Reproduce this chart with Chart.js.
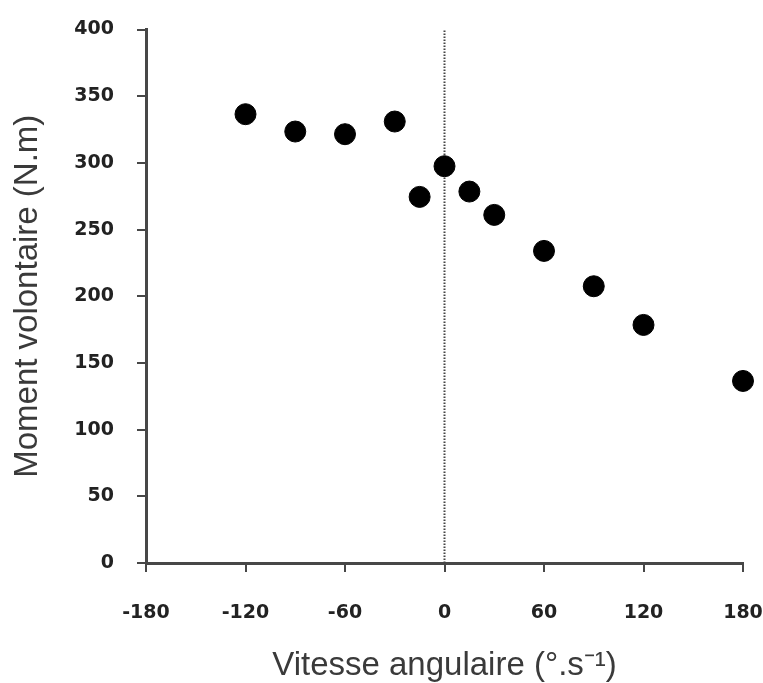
<!DOCTYPE html>
<html>
<head>
<meta charset="utf-8">
<script src="https://cdn.jsdelivr.net/npm/chart.js@4"></script>
<style>
html,body{margin:0;padding:0;background:#fff;}
#wrap{width:763px;height:683px;}
</style>
</head>
<body>
<div id="wrap"><canvas id="c" width="763" height="683"></canvas></div>
<script>
const velocities = [-120, -90, -60, -30, -15, 0, 15, 30, 60, 90, 120, 180];
const torques = [336.5, 323.5, 321.5, 331, 274.5, 297.5, 278.5, 261, 234, 207.5, 178.5, 136.5];
const refLineX = [0, 0];
const refLineY = [0, 400];
const xTitle = "Vitesse angulaire (°.s⁻¹)";
const yTitle = "Moment volontaire (N.m)";

const points = velocities.map((v, i) => ({x: v, y: torques[i]}));
const refLine = refLineX.map((v, i) => ({x: v, y: refLineY[i]}));

const tickFont = {family: "'DejaVu Sans', sans-serif", size: 19, weight: 'bold'};
const titleFont = {family: "'Liberation Sans', Arial, sans-serif", size: 33};
const axisColor = '#474747';

new Chart(document.getElementById('c'), {
  type: 'scatter',
  data: {
    datasets: [
      {
        data: points,
        order: 0,
        backgroundColor: '#000',
        borderColor: '#000',
        borderWidth: 1,
        pointRadius: 10.5,
        pointHoverRadius: 10.5,
        clip: false
      },
      {
        data: refLine,
        order: 1,
        showLine: true,
        borderColor: '#444',
        borderWidth: 2,
        borderDash: [1.5, 1.5],
        pointRadius: 0,
        pointHoverRadius: 0,
        fill: false,
        clip: false
      }
    ]
  },
  options: {
    responsive: false,
    animation: false,
    layout: {padding: {top: 29.5, right: 20, left: 0, bottom: 0}},
    plugins: {legend: {display: false}, tooltip: {enabled: false}},
    scales: {
      x: {
        type: 'linear',
        min: -180, max: 180,
        afterFit: (s) => { s.height = 120; s.paddingLeft = 0; s.paddingRight = 0; },
        ticks: {stepSize: 60, color: '#222', font: tickFont, padding: 30},
        grid: {drawOnChartArea: false, color: axisColor, tickLength: 9, lineWidth: 2},
        border: {color: axisColor, width: 3},
        title: {display: true, text: xTitle, color: '#3a3a3a', font: titleFont, padding: {top: 0, bottom: -3}}
      },
      y: {
        min: 0, max: 400,
        afterFit: (s) => { s.width = 146; s.paddingTop = 0; s.paddingBottom = 0; },
        ticks: {stepSize: 50, color: '#222', font: tickFont, padding: 23},
        grid: {drawOnChartArea: false, color: axisColor, tickLength: 9, lineWidth: 2},
        border: {color: axisColor, width: 3},
        title: {display: true, text: yTitle, color: '#3a3a3a', font: titleFont, padding: {top: 8, bottom: 0}}
      }
    }
  }
});
</script>
</body>
</html>
